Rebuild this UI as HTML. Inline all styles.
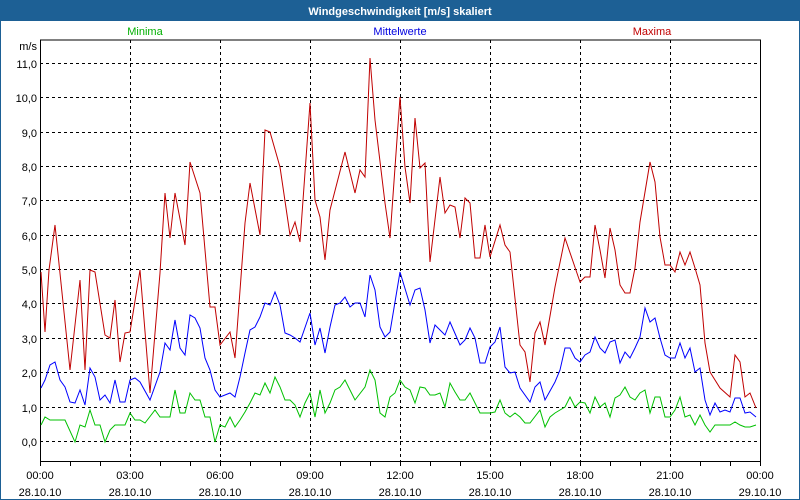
<!DOCTYPE html>
<html><head><meta charset="utf-8"><style>
html,body{margin:0;padding:0;background:#fff;}
svg{display:block;font-family:"Liberation Sans",sans-serif;}
</style></head><body>
<svg width="800" height="500" viewBox="0 0 800 500" xmlns="http://www.w3.org/2000/svg">
<rect x="0" y="0" width="800" height="500" fill="#fff"/>
<rect x="0" y="0" width="800" height="21" fill="#1d6095"/>
<rect x="0.5" y="0.5" width="799" height="499" fill="none" stroke="#1d6095" stroke-width="1"/>
<text x="400" y="15" fill="#fff" font-size="11" font-weight="bold" text-anchor="middle">Windgeschwindigkeit [m/s] skaliert</text>
<text x="145" y="35" fill="#00b000" font-size="11" text-anchor="middle">Minima</text>
<text x="400" y="35" fill="#0000e0" font-size="11" text-anchor="middle">Mittelwerte</text>
<text x="652" y="35" fill="#c00000" font-size="11" text-anchor="middle">Maxima</text>
<g stroke="#000" stroke-width="1" stroke-dasharray="3,3" fill="none">
<path d="M40 441.5H760M40 407.5H760M40 372.5H760M40 338.5H760M40 303.5H760M40 269.5H760M40 235.5H760M40 200.5H760M40 166.5H760M40 132.5H760M40 97.5H760M40 63.5H760"/>
<path d="M130.5 40V461M220.5 40V461M310.5 40V461M400.5 40V461M490.5 40V461M580.5 40V461M670.5 40V461"/>
</g>
<g stroke="#000" stroke-width="1" fill="none">
<path d="M40.5 40V461.5H760.5V40H40"/>
<path d="M40.5 461V466M70.5 461V466M100.5 461V466M130.5 461V466M160.5 461V466M190.5 461V466M220.5 461V466M250.5 461V466M280.5 461V466M310.5 461V466M340.5 461V466M370.5 461V466M400.5 461V466M430.5 461V466M460.5 461V466M490.5 461V466M520.5 461V466M550.5 461V466M580.5 461V466M610.5 461V466M640.5 461V466M670.5 461V466M700.5 461V466M730.5 461V466M760.5 461V466"/>
</g>
<g font-size="11" fill="#000" text-anchor="end">
<text x="37" y="50">m/s</text>
<text x="37" y="446">0,0</text><text x="37" y="412">1,0</text><text x="37" y="377">2,0</text><text x="37" y="343">3,0</text><text x="37" y="308">4,0</text><text x="37" y="274">5,0</text><text x="37" y="240">6,0</text><text x="37" y="205">7,0</text><text x="37" y="171">8,0</text><text x="37" y="137">9,0</text><text x="37" y="102">10,0</text><text x="37" y="68">11,0</text>
</g>
<g font-size="11" fill="#000" text-anchor="middle">
<text x="40" y="479">00:00</text><text x="40" y="496">28.10.10</text>
<text x="130" y="479">03:00</text><text x="130" y="496">28.10.10</text>
<text x="220" y="479">06:00</text><text x="220" y="496">28.10.10</text>
<text x="310" y="479">09:00</text><text x="310" y="496">28.10.10</text>
<text x="400" y="479">12:00</text><text x="400" y="496">28.10.10</text>
<text x="490" y="479">15:00</text><text x="490" y="496">28.10.10</text>
<text x="580" y="479">18:00</text><text x="580" y="496">28.10.10</text>
<text x="670" y="479">21:00</text><text x="670" y="496">28.10.10</text>
<text x="760" y="479">00:00</text><text x="760" y="496">29.10.10</text>
</g>
<g fill="none" stroke-width="1">
<polyline stroke="#c00000" points="41,272 45,332 49,270 55,225 70,370 80,280 85,370 90,270 95,272 105,335 110,338 115,300 120,362 125,333 130,332 140,270 150,393 160,273 165,193 170,238 175,193 185,245 190,162 200,193 210,307 215,307 220,345 230,332 235,358 245,223 250,183 260,235 265,130 270,132 280,167 290,235 295,222 300,242 310,103 315,200 320,217 325,260 330,210 345,152 355,193 360,170 365,177 370,58 375,120 385,203 390,238 400,97 405,167 410,203 415,118 420,168 425,163 430,262 440,177 445,213 450,205 455,207 460,238 465,198 470,203 475,258 480,258 485,225 490,257 500,225 505,245 510,252 520,345 525,352 530,382 535,333 540,322 545,345 555,287 565,238 580,282 585,277 590,277 595,225 600,250 605,278 610,228 615,250 620,285 625,293 630,293 635,268 640,222 650,162 655,182 660,237 665,265 670,265 675,272 680,252 685,265 690,252 695,268 700,285 705,343 710,372 715,380 720,388 730,397 735,355 740,362 745,397 750,393 756,408"/>
<polyline stroke="#0000ff" points="41,388 45,380 50,365 55,362 60,380 65,387 70,402 75,403 80,390 85,405 90,368 95,377 100,400 105,395 110,403 115,380 120,402 125,402 130,380 135,378 140,382 150,400 160,372 165,343 170,350 175,320 180,348 185,355 190,315 195,318 200,328 205,358 210,370 215,390 220,397 230,393 235,397 240,377 245,353 250,330 255,327 260,317 265,303 270,305 275,292 280,305 285,333 290,335 295,338 300,342 310,313 315,345 320,328 325,353 330,327 335,305 340,303 345,297 350,307 355,303 360,303 365,317 370,275 375,290 380,327 385,337 390,332 400,272 410,305 415,290 420,288 425,310 430,343 435,325 445,335 450,322 460,345 465,340 470,328 475,338 480,363 485,363 490,347 495,342 500,327 505,367 510,373 515,372 520,388 530,402 535,387 540,382 545,400 555,382 560,370 565,348 570,348 575,358 580,362 585,355 590,352 595,337 600,348 605,353 610,342 615,340 620,363 625,352 630,358 635,348 640,337 645,308 650,322 655,318 660,338 665,355 670,358 675,358 680,343 685,358 690,348 695,372 700,368 705,400 710,415 715,403 720,412 725,410 730,412 735,398 740,398 745,413 750,412 756,417"/>
<polyline stroke="#00c000" points="41,425 45,417 50,420 65,420 75,442 80,425 85,427 90,410 95,425 100,425 105,442 110,430 115,425 125,425 130,413 135,420 140,420 145,423 155,410 160,417 170,417 175,390 180,413 185,413 190,393 195,400 200,400 205,417 210,417 215,442 220,425 225,427 230,417 235,427 240,420 245,412 250,403 255,393 260,395 265,383 270,393 275,377 280,387 285,400 290,400 295,405 300,417 305,403 310,393 315,417 320,390 325,413 330,403 335,390 340,387 345,380 350,390 355,400 365,387 370,370 375,380 380,413 385,417 390,397 395,393 400,380 405,387 410,390 415,403 420,387 425,388 430,395 435,395 440,393 445,407 450,383 455,392 460,400 465,400 470,393 480,413 490,413 495,412 500,400 505,413 510,417 515,413 520,417 525,423 530,423 540,410 545,427 550,417 555,413 560,410 565,407 570,397 575,407 580,402 585,403 590,413 595,397 600,407 605,403 610,417 615,398 620,395 625,387 630,397 635,400 640,393 645,390 650,413 655,397 660,397 665,417 670,417 675,410 680,397 685,417 690,415 695,425 700,415 705,425 710,432 715,425 730,425 735,422 740,425 745,427 750,427 756,425"/>
</g>
</svg>
</body></html>
